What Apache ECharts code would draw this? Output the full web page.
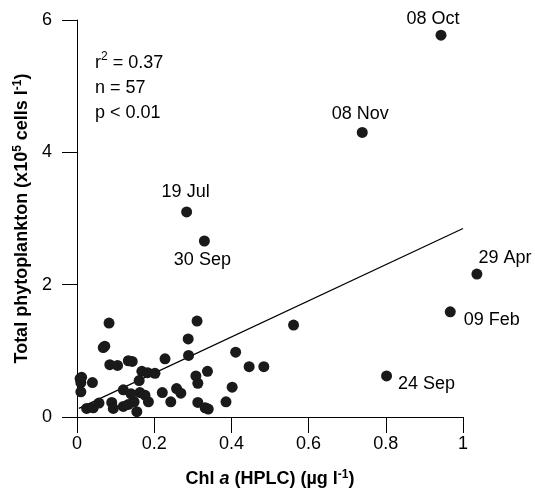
<!DOCTYPE html>
<html>
<head>
<meta charset="utf-8">
<script src="https://cdn.jsdelivr.net/npm/echarts@6/dist/echarts.min.js"></script>
<style>
  html, body { margin: 0; padding: 0; background: #fff; }
  #chart { width: 535px; height: 490px; }
</style>
</head>
<body>
<div id="chart"></div>
<script>
// Chl a (HPLC), µg l-1
const chlX = [
  0.943, 0.739, 0.284, 0.330, 1.036, 0.967, 0.802,
  0.561, 0.411, 0.446, 0.484, 0.402,
  0.311, 0.288, 0.289, 0.228, 0.338, 0.308, 0.313, 0.221, 0.258, 0.269,
  0.243, 0.313, 0.332, 0.340, 0.386,
  0.083, 0.068, 0.072, 0.085, 0.105, 0.133, 0.143, 0.168, 0.183, 0.202,
  0.161, 0.008, 0.010, 0.010, 0.040, 0.120, 0.163, 0.176, 0.185, 0.025,
  0.042, 0.057, 0.090, 0.094, 0.120, 0.133, 0.148, 0.155, 0.012, 0.140
];
// total phytoplankton, x10^5 cells l-1
const cellsY = [
  5.77, 4.30, 3.10, 2.66, 2.16, 1.59, 0.62,
  1.39, 0.98, 0.76, 0.76, 0.45,
  1.45, 1.18, 0.93, 0.88, 0.69, 0.62, 0.51, 0.37, 0.43, 0.36,
  0.23, 0.22, 0.14, 0.12, 0.23,
  1.42, 1.05, 1.07, 0.79, 0.78, 0.85, 0.84, 0.69, 0.67, 0.66,
  0.55, 0.58, 0.52, 0.38, 0.52, 0.41, 0.37, 0.33, 0.23, 0.13,
  0.14, 0.21, 0.22, 0.13, 0.16, 0.19, 0.23, 0.08, 0.60, 0.35
];
const dateNames = ['08 Oct', '08 Nov', '19 Jul', '30 Sep', '29 Apr', '09 Feb', '24 Sep'];

// regression line end points
const fitX = [0.005, 1.0];
const fitY = [0.13, 2.85];

const xTicks = [0, 0.2, 0.4, 0.6, 0.8, 1];
const yTicks = [0, 2, 4, 6];
const statLines = ['r{sup|2} = 0.37', 'n = 57', 'p < 0.01'];

// where each date label sits relative to its dot
const labelPos = {
  '08 Oct': { position: 'top', distance: 2, offset: [-8, 0] },
  '08 Nov': { position: 'top', distance: 4, offset: [-2, 0] },
  '19 Jul': { position: 'top', distance: 5, offset: [-1, 0] },
  '30 Sep': { position: 'bottom', distance: 5, offset: [-2, 0] },
  '29 Apr': { position: 'right', distance: 0, offset: [-4, -16] },
  '09 Feb': { position: 'right', distance: 8, offset: [0, 8] },
  '24 Sep': { position: 'right', distance: 6, offset: [0, 8] }
};

const font = 'Liberation Sans, Arial, Helvetica, sans-serif';
const ink = '#000';

const myChart = echarts.init(document.getElementById('chart'));

const points = chlX.map(function (x, i) {
  const name = dateNames[i] || '';
  const item = { value: [x, cellsY[i]], name: name };
  if (name) {
    item.label = Object.assign({ show: true, formatter: '{b}' }, labelPos[name]);
  }
  return item;
});

const option = {
  animation: false,
  backgroundColor: '#fff',
  grid: { left: 77, right: 72, top: 20, bottom: 73, outerBoundsMode: 'none' },
  xAxis: {
    type: 'value',
    min: 0,
    max: 1,
    interval: 0.2,
    splitLine: { show: false },
    axisLine: { onZero: false, lineStyle: { color: ink, width: 1 } },
    axisTick: { show: true, length: 16, inside: false, lineStyle: { color: ink } },
    axisLabel: {
      margin: 18,
      fontSize: 18,
      fontFamily: font,
      color: ink,
      formatter: function (v) {
        const hit = xTicks.find(function (t) { return Math.abs(t - v) < 1e-6; });
        return hit === undefined ? '' : String(hit);
      }
    },
    name: 'Chl {it|a} (HPLC) (µg l{sup|-1})',
    nameLocation: 'middle',
    nameGap: 52,
    nameTextStyle: {
      fontSize: 18,
      fontWeight: 'bold',
      fontFamily: font,
      color: ink,
      rich: {
        it: { fontSize: 18, fontWeight: 'bold', fontStyle: 'italic', fontFamily: font, color: ink },
        sup: { fontSize: 12, fontWeight: 'bold', fontFamily: font, color: ink, verticalAlign: 'top', padding: [0, 0, 8, 0] }
      }
    }
  },
  yAxis: {
    type: 'value',
    min: 0,
    max: 6,
    interval: 2,
    splitLine: { show: false },
    axisLine: { onZero: false, lineStyle: { color: ink, width: 1 } },
    axisTick: { show: true, length: 15, inside: false, lineStyle: { color: ink } },
    axisLabel: {
      margin: 25,
      fontSize: 18,
      fontFamily: font,
      color: ink,
      formatter: function (v) {
        return yTicks.indexOf(v) >= 0 ? String(v) : '';
      }
    },
    name: 'Total phytoplankton (x10{sup|5} cells l{sup|-1})',
    nameLocation: 'middle',
    nameGap: 42,
    nameTextStyle: {
      fontSize: 18,
      fontWeight: 'bold',
      fontFamily: font,
      color: ink,
      rich: {
        sup: { fontSize: 12, fontWeight: 'bold', fontFamily: font, color: ink, verticalAlign: 'top', padding: [0, 0, 8, 0] }
      }
    }
  },
  graphic: [{
    type: 'text',
    left: 95,
    top: 51,
    style: {
      text: statLines.join('\n'),
      font: '18px ' + font,
      fill: ink,
      lineHeight: 25,
      rich: {
        sup: { fontSize: 12, fontFamily: font, fill: ink, verticalAlign: 'top', padding: [0, 0, 8, 0] }
      }
    }
  }],
  series: [
    {
      type: 'line',
      data: fitX.map(function (x, i) { return [x, fitY[i]]; }),
      showSymbol: false,
      symbol: 'none',
      lineStyle: { color: ink, width: 1.2 },
      silent: true,
      z: 1
    },
    {
      type: 'scatter',
      data: points,
      symbol: 'circle',
      symbolSize: 11,
      clip: false,
      itemStyle: { color: '#1a1a1a', opacity: 1 },
      label: {
        fontSize: 18,
        fontFamily: font,
        color: ink
      },
      z: 2
    }
  ]
};

myChart.setOption(option);
window.addEventListener('resize', function () {
  myChart.resize();
});
</script>
</body>
</html>
